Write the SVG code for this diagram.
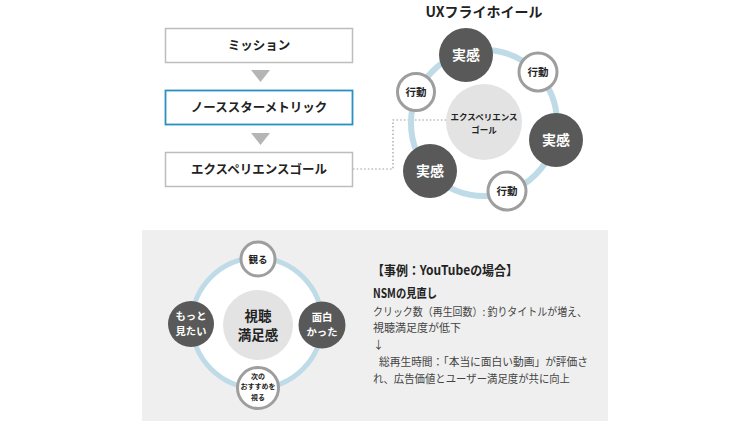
<svg xmlns="http://www.w3.org/2000/svg" width="750" height="422" viewBox="0 0 750 422">
<style>
text{font-family:"Noto Sans CJK JP","Noto Sans",sans-serif;}
.box{fill:#fff;stroke:#bdbdbd;stroke-width:1.5;}
.boxb{fill:#fff;stroke:#2a90c2;stroke-width:1.8;}
.bt{font-size:12.5px;font-weight:700;fill:#222;text-anchor:middle;}
.tri{fill:#b5b5b5;}
.ring{fill:none;stroke:#bfdbe7;stroke-width:6;}
.dark{fill:#595959;}
.wn{fill:#fff;stroke:#9e9e9e;stroke-width:3;}
.ctr{fill:#e3e3e3;}
.wt{fill:#fff;font-weight:700;text-anchor:middle;}
.dt{fill:#222;font-weight:700;text-anchor:middle;}
.body{font-size:11px;fill:#444;}
.dot{fill:none;stroke:#999;stroke-width:1.2;stroke-dasharray:1.5 2.2;}
</style>
<rect x="142" y="230" width="466" height="191" fill="#efefef"/>
<g id="connectors">
<polygon class="tri" points="251,70 270,70 260.5,82"/>
<polygon class="tri" points="251,133 270,133 260.5,145"/>
<polyline class="dot" points="353,169 393,169 393,120 446,120"/>
</g>
<g id="mission"><rect class="box" x="165.5" y="28.5" width="187" height="34"/><text class="bt" x="259" y="50">ミッション</text></g>
<g id="nsm"><rect class="boxb" x="165.5" y="90.5" width="187" height="34"/><text class="bt" x="259" y="112">ノーススターメトリック</text></g>
<g id="xgoal"><rect class="box" x="165.5" y="152.5" width="187" height="34"/><text class="bt" x="259" y="174">エクスペリエンスゴール</text></g>
<g id="flywheel">
<text x="484" y="17" font-size="14" font-weight="700" fill="#222" text-anchor="middle">UXフライホイール</text>
<circle class="ring" cx="484" cy="123" r="73"/>
</g>
<g id="fw-center"><circle class="ctr" cx="484" cy="122" r="38"/><text class="dt" x="484" y="120" font-size="8.5">エクスペリエンス</text><text class="dt" x="484" y="133" font-size="8.5">ゴール</text></g>
<g id="fw-j1"><circle class="dark" cx="466" cy="55" r="27"/><text class="wt" x="466" y="60" font-size="14">実感</text></g>
<g id="fw-a1"><circle class="wn" cx="538" cy="72" r="19"/><text class="dt" x="538" y="76" font-size="10.5">行動</text></g>
<g id="fw-j2"><circle class="dark" cx="556" cy="140" r="27"/><text class="wt" x="556" y="145" font-size="14">実感</text></g>
<g id="fw-a2"><circle class="wn" cx="507" cy="191" r="19"/><text class="dt" x="507" y="195" font-size="10.5">行動</text></g>
<g id="fw-j3"><circle class="dark" cx="430" cy="171" r="27"/><text class="wt" x="430" y="176" font-size="14">実感</text></g>
<g id="fw-a3"><circle class="wn" cx="416" cy="92" r="18.5"/><text class="dt" x="416" y="96" font-size="10.5">行動</text></g>
<g id="yt-wheel"><circle cx="257" cy="323" r="65" fill="#fff" stroke="#bfdbe7" stroke-width="5"/></g>
<g id="yt-center"><circle class="ctr" cx="258" cy="325" r="35"/><text class="dt" x="258" y="321" font-size="13.5">視聴</text><text class="dt" x="258" y="340" font-size="13.5">満足感</text></g>
<g id="yt-watch"><circle class="wn" cx="258" cy="259" r="17"/><text class="dt" x="258" y="263" font-size="9.5">観る</text></g>
<g id="yt-fun"><circle class="dark" cx="322" cy="325" r="23.5"/><text class="wt" x="322" y="321" font-size="10.3">面白</text><text class="wt" x="322" y="336" font-size="10.3">かった</text></g>
<g id="yt-next"><circle class="wn" cx="258" cy="388" r="20.5"/><text class="dt" x="258" y="378.5" font-size="7">次の</text><text class="dt" x="258" y="389" font-size="7">おすすめを</text><text class="dt" x="258" y="399.5" font-size="7">視る</text></g>
<g id="yt-more"><circle class="dark" cx="191" cy="324" r="23"/><text class="wt" x="191" y="320" font-size="10.3">もっと</text><text class="wt" x="191" y="335" font-size="10.3">見たい</text></g>
<g id="case">
<text x="372" y="275" font-size="13" font-weight="700" fill="#222" textLength="146" lengthAdjust="spacingAndGlyphs">【事例：YouTubeの場合】</text>
<text x="373" y="298" font-size="12.5" font-weight="700" fill="#222" textLength="64" lengthAdjust="spacingAndGlyphs">NSMの見直し</text>
<text class="body" x="373" y="315.5" textLength="214" lengthAdjust="spacingAndGlyphs">クリック数（再生回数）: 釣りタイトルが増え、</text>
<text class="body" x="373" y="332">視聴満足度が低下</text>
<text class="body" x="373" y="349">↓</text>
<text class="body" x="379" y="366" textLength="209" lengthAdjust="spacingAndGlyphs">総再生時間：「本当に面白い動画」が評価さ</text>
<text class="body" x="373" y="383" textLength="197" lengthAdjust="spacingAndGlyphs">れ、広告価値とユーザー満足度が共に向上</text>
</g>
</svg>
